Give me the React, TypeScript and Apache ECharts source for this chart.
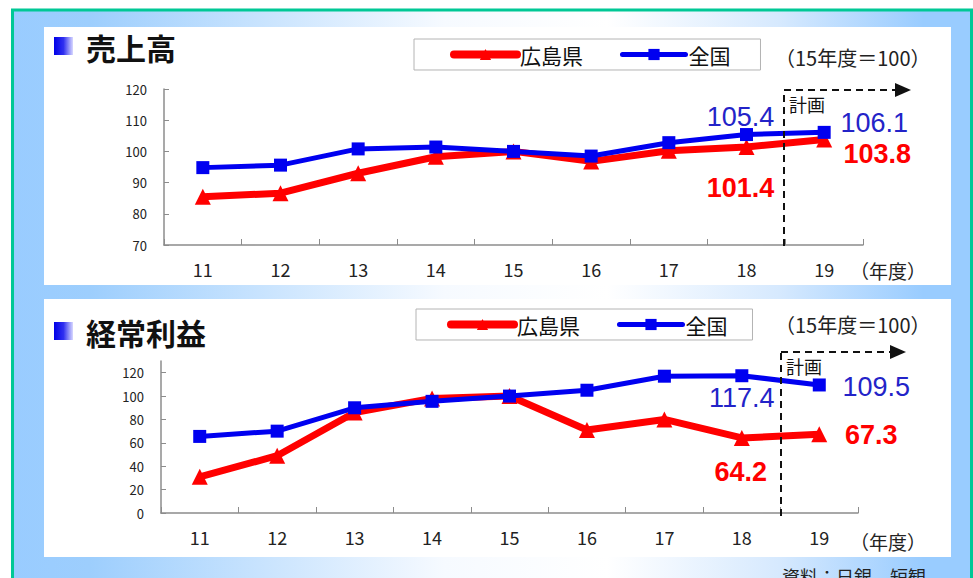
import React, { useEffect, useRef } from "react";
import * as echarts from "echarts";

const years = ["11", "12", "13", "14", "15", "16", "17", "18", "19"];
const salesHiroshima = [85.5, 86.6, 93.0, 98.3, 100, 96.8, 100.2, 101.4, 103.8];
const salesNational = [94.8, 95.6, 100.8, 101.4, 100, 98.5, 102.8, 105.4, 106.1];
const profitHiroshima = [31, 49, 86, 98, 100, 71, 80, 64.2, 67.3];
const profitNational = [65.5, 70, 90, 95.5, 100, 105, 117, 117.4, 109.5];
const salesTicks = [70, 80, 90, 100, 110, 120];
const profitTicks = [0, 20, 40, 60, 80, 100, 120];
const seriesNames = ["広島県", "全国"];

const FONT = "'Noto Sans CJK JP', 'Noto Sans', sans-serif";
const NUM_FONT = "'Liberation Sans', 'DejaVu Sans', sans-serif";
const RED = "#ff0000";
const BLUE = "#0000f0";
const BLUE_TEXT = "#2323c8";

type LabelSpec = { offset: number[]; color: string; bold: boolean };

function withLabels(vals: number[], specs: Record<number, LabelSpec>) {
  return vals.map((v, i) => {
    const s = specs[i];
    if (!s) return v;
    return {
      value: v,
      label: {
        show: true,
        position: "inside",
        offset: s.offset,
        formatter: "{c}",
        fontSize: 27,
        lineHeight: 24,
        fontFamily: NUM_FONT,
        fontWeight: s.bold ? "bold" : "normal",
        color: s.color,
      },
    };
  });
}

function lineSeries(name: string, data: any[], idx: number, red: boolean) {
  return {
    type: "line",
    name,
    xAxisIndex: idx,
    yAxisIndex: idx,
    data,
    symbol: red ? "triangle" : "rect",
    symbolSize: red ? 16 : 13,
    lineStyle: { color: red ? RED : BLUE, width: red ? 7 : 5 },
    itemStyle: { color: red ? RED : BLUE },
    z: red ? 2 : 3,
  };
}

function xAxis(idx: number) {
  return {
    type: "category",
    gridIndex: idx,
    data: years,
    boundaryGap: true,
    axisLine: { lineStyle: { color: "#8c8c8c", width: 1.5 } },
    axisTick: { show: true, inside: true, length: 6, lineStyle: { color: "#8c8c8c" } },
    axisLabel: { fontSize: 18, color: "#222", margin: 15, fontFamily: FONT },
    splitLine: { show: false },
  };
}

function yAxis(idx: number, min: number, max: number, interval: number, ticks: number[]) {
  return {
    type: "value",
    gridIndex: idx,
    min,
    max,
    interval,
    axisLine: { show: true, lineStyle: { color: "#8c8c8c", width: 1.5 } },
    axisTick: { show: true, inside: true, length: 5, lineStyle: { color: "#8c8c8c" }, customValues: ticks },
    axisLabel: {
      fontSize: 13,
      color: "#222",
      margin: 17,
      fontFamily: FONT,
      customValues: ticks,
      formatter: (v: number) => (ticks.indexOf(v) >= 0 ? String(v) : ""),
    },
    splitLine: { show: false },
  };
}

type PanelSpec = {
  top: number;
  title: string;
  titleY: number;
  baseY: number;
  dash: { x: number; y0: number; y1: number; x1: number; tip: number };
};

function panelGraphics(p: PanelSpec) {
  const { top, title, titleY, baseY, dash } = p;
  const els: any[] = [];
  els.push({
    type: "rect",
    shape: { x: 44, y: top, width: 907, height: 258 },
    style: { fill: "#ffffff" },
    z: -5,
  });
  els.push({
    type: "rect",
    shape: { x: 54, y: titleY - 10, width: 19, height: 18 },
    style: {
      fill: new echarts.graphic.LinearGradient(0, 0, 1, 0, [
        { offset: 0, color: "#0000e8" },
        { offset: 0.5, color: "#3030f0" },
        { offset: 1, color: "#d8d8ff" },
      ]),
    },
    z: 1,
  });
  els.push({
    type: "text",
    x: 86,
    y: titleY,
    style: { text: title, font: `bold 30px ${FONT}`, fill: "#111", verticalAlign: "middle", align: "left" },
    z: 1,
  });
  els.push({
    type: "text",
    x: 775,
    y: baseY,
    style: { text: "（15年度＝100）", font: `20px ${FONT}`, fill: "#222", verticalAlign: "middle", align: "left" },
    z: 1,
  });
  els.push({
    type: "text",
    x: 850,
    y: top + 243 - (top > 100 ? 1 : 0),
    style: { text: "（年度）", font: `19px ${FONT}`, fill: "#222", verticalAlign: "middle", align: "left" },
    z: 1,
  });
  els.push({
    type: "line",
    shape: { x1: dash.x, y1: dash.y1, x2: dash.x, y2: dash.y0 },
    style: { stroke: "#111", lineWidth: 2, lineDash: [7, 5] },
    z: 4,
  });
  els.push({
    type: "line",
    shape: { x1: dash.x, y1: dash.y0, x2: dash.x1, y2: dash.y0 },
    style: { stroke: "#111", lineWidth: 2, lineDash: [7, 5] },
    z: 4,
  });
  els.push({
    type: "polygon",
    shape: { points: [[dash.tip - 16, dash.y0 - 7], [dash.tip, dash.y0], [dash.tip - 16, dash.y0 + 7]] },
    style: { fill: "#111" },
    z: 4,
  });
  els.push({
    type: "text",
    x: dash.x + 5,
    y: dash.y0 + 14,
    style: { text: "計画", font: `18px ${FONT}`, fill: "#111", verticalAlign: "middle", align: "left" },
    z: 4,
  });
  return els;
}

export default function App() {
  const ref = useRef<HTMLDivElement>(null);
  useEffect(() => {
    if (!ref.current) return;
    const chart = echarts.init(ref.current, undefined, { renderer: "svg" });

    const bgGrad = new echarts.graphic.LinearGradient(0, 0, 1, 0, [
      { offset: 0, color: "#99ccff" },
      { offset: 0.08, color: "#9dcefd" },
      { offset: 0.45, color: "#f6faff" },
      { offset: 0.62, color: "#ffffff" },
      { offset: 0.8, color: "#d6e9fe" },
      { offset: 0.95, color: "#99ccff" },
      { offset: 1, color: "#99ccff" },
    ]);

    const graphics: any[] = [
      {
        type: "rect",
        shape: { x: 12.5, y: 10, width: 959, height: 620 },
        style: { fill: bgGrad, stroke: "#00c896", lineWidth: 3 },
        z: -10,
      },
      ...panelGraphics({ top: 27, title: "売上高", titleY: 47, baseY: 57, dash: { x: 784, y0: 90, y1: 246, x1: 900, tip: 911 } }),
      ...panelGraphics({ top: 299, title: "経常利益", titleY: 332, baseY: 324, dash: { x: 781, y0: 352, y1: 516, x1: 893, tip: 906 } }),
      {
        type: "text",
        x: 782,
        y: 576,
        style: { text: "資料：日銀　短観", font: `18px ${FONT}`, fill: "#222", verticalAlign: "middle", align: "left" },
        z: 1,
      },
    ];

    const legendData = [
      { name: seriesNames[0], lineStyle: { width: 8, cap: "round", color: RED } },
      { name: seriesNames[1], lineStyle: { width: 5, cap: "round", color: BLUE } },
    ];

    const legendCommon = {
      data: legendData,
      orient: "horizontal",
      itemWidth: 63,
      itemHeight: 14,
      itemGap: 37,
      selectedMode: false,
      backgroundColor: "#ffffff",
      borderColor: "#b4b4b4",
      borderWidth: 1,
      borderRadius: 0,
      textStyle: { fontSize: 21, color: "#111", fontFamily: FONT, padding: [0, 0, 0, -2] },
    };

    chart.setOption({
      animation: false,
      textStyle: { fontFamily: FONT },
      graphic: graphics,
      legend: [
        { ...legendCommon, left: 414, top: 39, padding: [5, 30, 5, 36] },
        { ...legendCommon, left: 416, top: 309, padding: [5, 25, 5, 31] },
      ],
      grid: [
        { left: 164, top: 89, width: 699, height: 156, containLabel: false },
        { left: 161, top: 361, width: 697, height: 152, containLabel: false },
      ],
      xAxis: [xAxis(0), xAxis(1)],
      yAxis: [yAxis(0, 70, 120, 10, salesTicks), yAxis(1, 0, 130, 20, profitTicks)],
      series: [
        lineSeries(
          seriesNames[0],
          withLabels(salesHiroshima, {
            7: { offset: [-6, 41], color: RED, bold: true },
            8: { offset: [53, 14], color: RED, bold: true },
          }),
          0,
          true
        ),
        lineSeries(
          seriesNames[1],
          withLabels(salesNational, {
            7: { offset: [-6, -18], color: BLUE_TEXT, bold: false },
            8: { offset: [50, -9], color: BLUE_TEXT, bold: false },
          }),
          0,
          false
        ),
        lineSeries(
          seriesNames[0],
          withLabels(profitHiroshima, {
            7: { offset: [-1, 34], color: RED, bold: true },
            8: { offset: [52, 1], color: RED, bold: true },
          }),
          1,
          true
        ),
        lineSeries(
          seriesNames[1],
          withLabels(profitNational, {
            7: { offset: [0, 22], color: BLUE_TEXT, bold: false },
            8: { offset: [57, 2], color: BLUE_TEXT, bold: false },
          }),
          1,
          false
        ),
      ],
    });
    return () => chart.dispose();
  }, []);
  return (
    <div
      ref={ref}
      style={{ position: "absolute", left: 0, top: 0, width: 973, height: 578 }}
    />
  );
}
